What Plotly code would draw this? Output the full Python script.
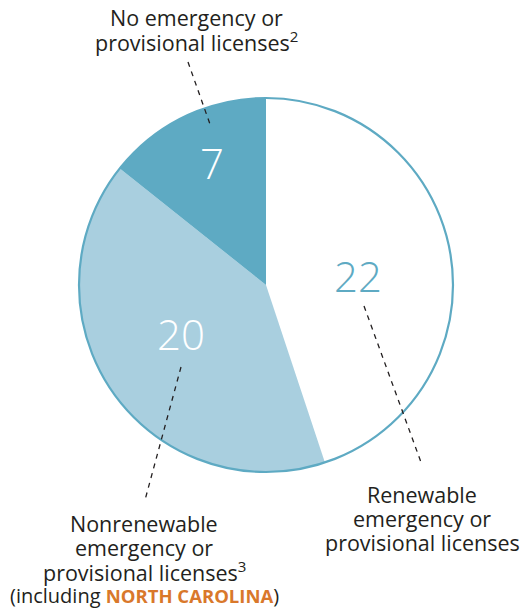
import plotly.graph_objects as go

categories = ["Renewable emergency or provisional licenses",
              "Nonrenewable emergency or provisional licenses",
              "No emergency or provisional licenses"]
values = [22, 20, 7]
slice_colors = ["#ffffff", "#a9cfdf", "#5eaac3"]
number_colors = ["#5eaac3", "#ffffff", "#ffffff"]

W, H = 522, 608
def px(x): return x / W
def py(y): return 1 - y / H

dom_x = [px(79), px(453)]
dom_y = [py(472), py(98)]

fig = go.Figure()
fig.add_trace(go.Pie(
    labels=categories, values=values, sort=False, direction="clockwise",
    rotation=0, marker=dict(colors=slice_colors, line=dict(width=0)),
    textinfo="none", hoverinfo="label+value", showlegend=False,
    domain=dict(x=dom_x, y=dom_y)))
# outer outline
fig.add_trace(go.Pie(
    labels=["outline"], values=[sum(values)], sort=False,
    marker=dict(colors=["rgba(0,0,0,0)"], line=dict(color="#5eaac3", width=2.2)),
    textinfo="none", hoverinfo="skip", showlegend=False,
    domain=dict(x=dom_x, y=dom_y)))

num_pos = [(358, 275), (181, 333), (212, 162)]
ann = []
for v, c, (x, y) in zip(values, number_colors, num_pos):
    ann.append(dict(x=px(x), y=py(y), xref="paper", yref="paper", text=str(v),
                    showarrow=False, font=dict(family="Open Sans", size=42, color=c, weight=300),
                    xanchor="center", yanchor="middle"))

txt = "#231f20"
def lines(items, x, y0, dy, sizes=None):
    for i, t in enumerate(items):
        s = sizes[i] if sizes else 21.5
        ann.append(dict(x=px(x), y=py(y0 + i * dy), xref="paper", yref="paper", text=t,
                        showarrow=False, borderpad=0,
                        font=dict(family="Open Sans", size=s, color=txt),
                        xanchor="center", yanchor="middle"))

lines(["No emergency or", "provisional licenses<sup>2</sup>"], 196, 18, 24)
lines(["Renewable", "emergency or", "provisional licenses"], 422, 494, 24)
lines(["Nonrenewable", "emergency or", "provisional licenses<sup>3</sup>",
       "(including <b><span style='color:#d9782b;font-size:18.5px'>NORTH CAROLINA</span></b>)"],
      144, 523, 24, sizes=[21.5, 21.5, 21.5, 20])

shapes = []
for (x0, y0, x1, y1) in [(188, 62, 211, 127), (364, 306, 422, 465), (181, 367, 145, 500)]:
    shapes.append(dict(type="line", xref="paper", yref="paper", x0=px(x0), y0=py(y0),
                       x1=px(x1), y1=py(y1), line=dict(color="#231f20", width=1.3, dash="5px,5px")))

fig.update_layout(width=W, height=H, margin=dict(l=0, r=0, t=0, b=0),
                  paper_bgcolor="white", plot_bgcolor="white",
                  annotations=ann, shapes=shapes)
fig.write_html("out.html", config={"displayModeBar": False},
               post_script="document.body.style.margin='0px';document.body.style.padding='0px';")
